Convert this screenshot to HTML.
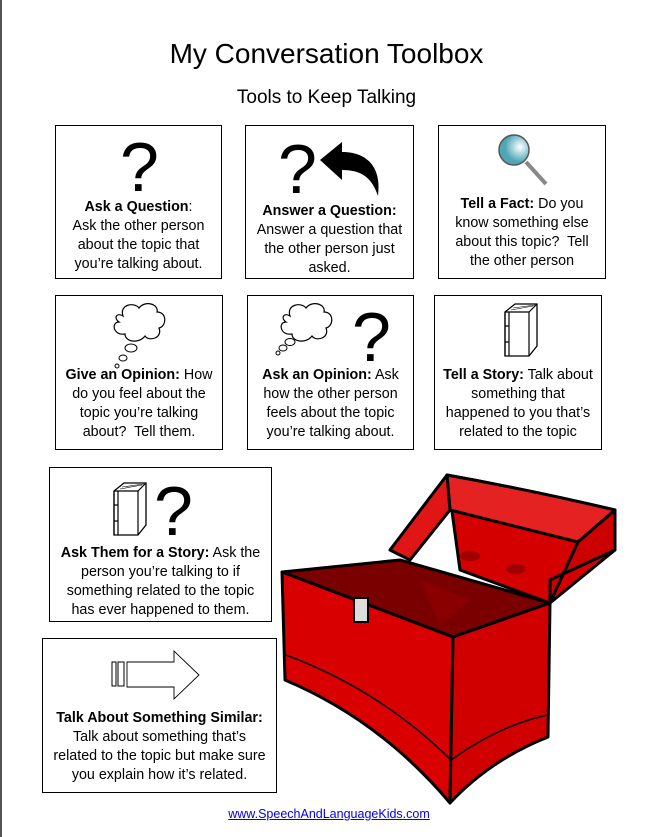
<!DOCTYPE html>
<html><head><meta charset="utf-8"><style>
*{margin:0;padding:0;box-sizing:border-box}
body{width:653px;height:837px;background:#fff;position:relative;overflow:hidden;font-family:"Liberation Sans",sans-serif;color:#000}
.lb{position:absolute;left:0;top:0;width:2px;height:837px;background:#555}
.box{position:absolute;border:1.5px solid #000}
.t{position:absolute;left:0;right:0;text-align:center;font-size:14.3px;line-height:19px}
.q{position:absolute;font-size:70px;line-height:66px;font-family:"Liberation Sans",sans-serif}
svg{position:absolute}
</style></head><body>
<div class="lb"></div>
<div style="position:absolute;left:0;width:653px;top:38px;text-align:center;font-size:28px">My Conversation Toolbox</div>
<div style="position:absolute;left:0;width:653px;top:87px;text-align:center;font-size:19px">Tools to Keep Talking</div>

<div class="box" style="left:55px;top:125px;width:167px;height:154px">
<div class="q" style="left:64px;top:8px">?</div>
<div class="t" style="top:72px"><b>Ask a Question</b>:<br>Ask the other person<br>about the topic that<br>you’re talking about.</div></div>

<div class="box" style="left:245px;top:125px;width:169px;height:154px">
<div class="q" style="left:32px;top:10px">?</div>
<svg style="left:72px;top:12px" width="66" height="62" viewBox="0 0 66 62"><path d="M2 22 L24 4 L24 14 C48 14 64 28 60 58 C54 40 44 32 24 32 L24 42 Z" fill="#000"/></svg>
<div class="t" style="top:76px"><b>Answer a Question:</b><br>Answer a question that<br>the other person just<br>asked.</div></div>

<div class="box" style="left:438px;top:125px;width:168px;height:154px">
<svg style="left:55px;top:6px" width="60" height="60" viewBox="0 0 60 60"><defs><radialGradient id="g" cx="0.7" cy="0.4"><stop offset="0" stop-color="#fff"/><stop offset="1" stop-color="#4fa6b5"/></radialGradient></defs><line x1="32" y1="30" x2="52" y2="52" stroke="#888" stroke-width="4"/><circle cx="20" cy="18" r="15" fill="url(#g)" stroke="#555" stroke-width="1.5"/></svg>
<div class="t" style="top:69px"><b>Tell a Fact:</b> Do you<br>know something else<br>about this topic?&nbsp; Tell<br>the other person</div></div>

<div class="box" style="left:55px;top:295px;width:168px;height:155px">
<svg style="left:45px;top:2px" width="80" height="75" viewBox="0 0 80 75"><path d="M22 18 C18 6 34 4 38 10 C44 2 58 6 56 14 C66 14 66 28 58 30 C62 40 48 44 44 38 C38 46 24 44 24 36 C12 38 10 24 18 24 C12 20 16 14 22 18 Z" fill="#fff" stroke="#000" stroke-width="1.2"/><ellipse cx="30" cy="50" rx="6" ry="4" fill="none" stroke="#000"/><ellipse cx="22" cy="60" rx="4" ry="3" fill="none" stroke="#000"/><circle cx="16" cy="68" r="2" fill="none" stroke="#000"/></svg>
<div class="t" style="top:70px"><b>Give an Opinion:</b> How<br>do you feel about the<br>topic you’re talking<br>about?&nbsp; Tell them.</div></div>

<div class="box" style="left:247px;top:295px;width:167px;height:155px">
<svg style="left:20px;top:2px" width="80" height="75" viewBox="0 0 80 75"><path d="M22 18 C18 6 34 4 38 10 C44 2 58 6 56 14 C66 14 66 28 58 30 C62 40 48 44 44 38 C38 46 24 44 24 36 C12 38 10 24 18 24 C12 20 16 14 22 18 Z" fill="#fff" stroke="#000" stroke-width="1.2"/><ellipse cx="22" cy="44" rx="5" ry="3.5" fill="none" stroke="#000"/><ellipse cx="15" cy="50" rx="4" ry="3" fill="none" stroke="#000"/><circle cx="10" cy="55" r="2" fill="none" stroke="#000"/></svg>
<div class="q" style="left:104px;top:8px">?</div>
<div class="t" style="top:70px"><b>Ask an Opinion:</b> Ask<br>how the other person<br>feels about the topic<br>you’re talking about.</div></div>

<div class="box" style="left:434px;top:295px;width:168px;height:155px">
<svg style="left:64px;top:6px" width="42" height="58" viewBox="0 0 42 58"><path d="M6 10 L16 2 L38 2 L38 44 L30 54 L6 54 Z" fill="#fff" stroke="#000" stroke-width="1.3"/><path d="M6 10 L30 10 L38 2 M30 10 L30 54 M6 10 L6 54 M10 10 L10 54 M6 24 L10 24 M6 40 L10 40" fill="none" stroke="#000" stroke-width="1.2"/><path d="M12 8 L34 4 M14 6 L36 3" stroke="#000" stroke-width=".6"/></svg>
<div class="t" style="top:70px"><b>Tell a Story:</b> Talk about<br>something that<br>happened to you that’s<br>related to the topic</div></div>

<div class="box" style="left:49px;top:467px;width:223px;height:155px">
<svg style="left:58px;top:13px" width="42" height="58" viewBox="0 0 42 58"><path d="M6 10 L16 2 L38 2 L38 44 L30 54 L6 54 Z" fill="#fff" stroke="#000" stroke-width="1.3"/><path d="M6 10 L30 10 L38 2 M30 10 L30 54 M6 10 L6 54 M10 10 L10 54 M6 24 L10 24 M6 40 L10 40" fill="none" stroke="#000" stroke-width="1.2"/><path d="M12 8 L34 4 M14 6 L36 3" stroke="#000" stroke-width=".6"/></svg>
<div class="q" style="left:104px;top:10px">?</div>
<div class="t" style="top:76px"><b>Ask Them for a Story:</b> Ask the<br>person you’re talking to if<br>something related to the topic<br>has ever happened to them.</div></div>

<div class="box" style="left:42px;top:638px;width:235px;height:155px">
<svg style="left:66px;top:10px" width="110" height="52" viewBox="0 0 110 52"><rect x="3" y="13" width="4" height="24" fill="#fff" stroke="#000"/><rect x="9" y="13" width="6" height="24" fill="#fff" stroke="#000"/><path d="M18 13 L65 13 L65 2 L90 26 L65 50 L65 38 L18 38 Z" fill="#fff" stroke="#000" stroke-width=".9"/></svg>
<div class="t" style="top:70px"><b>Talk About Something Similar:</b><br>Talk about something that’s<br>related to the topic but make sure<br>you explain how it’s related.</div></div>

<svg style="left:278px;top:470px" width="345" height="340" viewBox="278 470 345 340">
<g stroke="#000" stroke-width="3" stroke-linejoin="round">
<path d="M447 475 Q530 490 615 510 L615 550 L550 603 L460 570 Z" fill="#d40000"/>
<path d="M447 475 L450 510 L578 542 L615 510 Q530 490 447 475 Z" fill="#e52222"/>
<path d="M447 475 L390 550 L410 560 L450 510 Z" fill="#e01515"/>
<path d="M578 542 L550 603 L550 580 L615 550 L615 510 Z" fill="#cc0000"/>
<path d="M282 572 L400 560 L550 603 L453 637 Z" fill="#7a0000"/>
<path d="M282 572 L453 637 L450 803 Q380 720 285 680 Z" fill="#d80000"/>
<path d="M453 637 L550 603 L548 737 Q490 760 450 803 Z" fill="#d00000"/>
<path d="M286 655 Q380 690 451 760 M451 760 Q500 725 548 715" fill="none" stroke-width="1.5"/>
</g>
<path d="M420 580 L470 600 L440 625 Z" fill="#9a0000" opacity=".5"/>
<ellipse cx="470" cy="556" rx="10" ry="5" fill="#a00000"/><ellipse cx="516" cy="569" rx="10" ry="5" fill="#a00000"/>
<rect x="354" y="598" width="14" height="24" fill="#ddd" stroke="#000" stroke-width="2"/>
</svg>

<div style="position:absolute;left:0;width:653px;top:807px;text-align:center;font-size:12.5px"><a style="color:#00e;text-decoration:underline;margin-left:5px">www.SpeechAndLanguageKids.com</a></div>
</body></html>
